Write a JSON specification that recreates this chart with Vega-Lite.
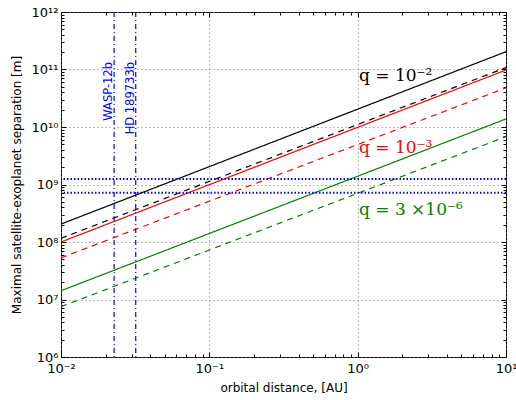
{
  "$schema": "https://vega.github.io/schema/vega-lite/v6.json",
  "autosize": {"type": "none"},
  "padding": {"left": 61, "top": 12, "right": 10, "bottom": 43},
  "width": 445,
  "height": 345,
  "background": "white",
  "config": {
    "view": {"stroke": "#000000", "strokeWidth": 1},
    "font": "DejaVu Sans",
    "axis": {"labelFont": "DejaVu Sans", "titleFont": "DejaVu Sans", "labelColor": "#000", "titleColor": "#000", "titleFontWeight": "normal", "domain": false, "tickColor": "#000"}
  },
  "datasets": {
    "lines": [
      {"series": "k solid", "grp": "k", "sty": "solid", "a": 0.01, "r": 2.05e8},
      {"series": "k solid", "grp": "k", "sty": "solid", "a": 10, "r": 2.04e11},
      {"series": "k dashed", "grp": "k", "sty": "dashed", "a": 0.01, "r": 1.16e8},
      {"series": "k dashed", "grp": "k", "sty": "dashed", "a": 10, "r": 1.08e11},
      {"series": "r solid", "grp": "r", "sty": "solid", "a": 0.01, "r": 1.0e8},
      {"series": "r solid", "grp": "r", "sty": "solid", "a": 10, "r": 9.8e10},
      {"series": "r dashed", "grp": "r", "sty": "dashed", "a": 0.01, "r": 5.3e7},
      {"series": "r dashed", "grp": "r", "sty": "dashed", "a": 10, "r": 4.8e10},
      {"series": "g solid", "grp": "g", "sty": "solid", "a": 0.01, "r": 1.42e7},
      {"series": "g solid", "grp": "g", "sty": "solid", "a": 10, "r": 1.38e10},
      {"series": "g dashed", "grp": "g", "sty": "dashed", "a": 0.01, "r": 7.5e6},
      {"series": "g dashed", "grp": "g", "sty": "dashed", "a": 10, "r": 6.8e9}
    ],
    "qlabels": [
      {"label": "q = 10⁻²", "grp": "k", "a": 1.02, "r": 6.3e10},
      {"label": "q = 10⁻³", "grp": "r", "a": 1.02, "r": 3.5e9},
      {"label": "q = 3 ×10⁻⁶", "grp": "g", "a": 1.02, "r": 2.9e8}
    ],
    "planets": [
      {"name": "WASP-12b", "a": 0.0228, "top": 1.35e11},
      {"name": "HD 189733b", "a": 0.0319, "top": 1.35e11}
    ],
    "hlines": [
      {"r": 1.25e9},
      {"r": 7.2e8}
    ]
  },
  "resolve": {"axis": {"x": "independent", "y": "independent"}},
  "layer": [
    {
      "data": {"name": "lines"},
      "mark": {"type": "line", "strokeWidth": 1.2},
      "encoding": {
        "x": {"field": "a", "type": "quantitative",
          "scale": {"type": "log", "domain": [0.01, 10], "nice": false},
          "axis": {"orient": "bottom", "title": "orbital distance, [AU]", "titleFontSize": 12, "titlePadding": 7,
            "values": [0.01, 0.1, 1, 10], "tickSize": -5, "labelPadding": 10, "labelFontSize": 13,
            "labelExpr": "datum.value < 0.05 ? '10⁻²' : datum.value < 0.5 ? '10⁻¹' : datum.value < 5 ? '10⁰' : '10¹'",
            "grid": true, "gridColor": "#7a7a7a", "gridDash": [1, 3], "gridWidth": 1, "labelFlush": false}},
        "y": {"field": "r", "type": "quantitative",
          "scale": {"type": "log", "domain": [1e6, 1e12], "nice": false},
          "axis": {"orient": "left", "title": "Maximal satellite-exoplanet separation [m]", "titleFontSize": 12, "titlePadding": 8,
            "values": [1e6, 1e7, 1e8, 1e9, 1e10, 1e11, 1e12], "tickSize": -5, "labelPadding": 8, "labelFontSize": 13,
            "labelExpr": "datum.value < 5e6 ? '10⁶' : datum.value < 5e7 ? '10⁷' : datum.value < 5e8 ? '10⁸' : datum.value < 5e9 ? '10⁹' : datum.value < 5e10 ? '10¹⁰' : datum.value < 5e11 ? '10¹¹' : '10¹²'",
            "grid": true, "gridColor": "#7a7a7a", "gridDash": [1, 3], "gridWidth": 1, "labelFlush": false}},
        "detail": {"field": "series"},
        "color": {"field": "grp", "type": "nominal", "scale": {"domain": ["k", "r", "g"], "range": ["#000000", "#ff0000", "#008000"]}, "legend": null},
        "strokeDash": {"field": "sty", "type": "nominal", "scale": {"domain": ["solid", "dashed"], "range": [[1, 0], [6, 5]]}, "legend": null}
      }
    },
    {
      "data": {"name": "qlabels"},
      "mark": {"type": "text", "align": "left", "baseline": "alphabetic", "font": "DejaVu Serif", "fontSize": 17},
      "encoding": {
        "x": {"field": "a", "type": "quantitative",
          "axis": {"orient": "bottom", "title": null, "labels": false, "grid": false, "tickSize": -3,
            "values": [0.02,0.03,0.04,0.05,0.06,0.07,0.08,0.09,0.2,0.3,0.4,0.5,0.6,0.7,0.8,0.9,2,3,4,5,6,7,8,9]}},
        "y": {"field": "r", "type": "quantitative",
          "axis": {"orient": "left", "title": null, "labels": false, "grid": false, "tickSize": -3,
            "values": [2e6,3e6,4e6,5e6,6e6,7e6,8e6,9e6,2e7,3e7,4e7,5e7,6e7,7e7,8e7,9e7,2e8,3e8,4e8,5e8,6e8,7e8,8e8,9e8,2e9,3e9,4e9,5e9,6e9,7e9,8e9,9e9,2e10,3e10,4e10,5e10,6e10,7e10,8e10,9e10,2e11,3e11,4e11,5e11,6e11,7e11,8e11,9e11]}},
        "text": {"field": "label"},
        "color": {"field": "grp", "type": "nominal", "legend": null}
      }
    },
    {
      "data": {"name": "planets"},
      "mark": {"type": "text", "angle": 270, "align": "right", "baseline": "bottom", "fontSize": 11.5, "color": "#0000ff", "font": "DejaVu Sans"},
      "encoding": {
        "x": {"field": "a", "type": "quantitative",
          "axis": {"orient": "top", "title": null, "labels": false, "grid": false, "tickSize": -5, "values": [0.01, 0.1, 1, 10]}},
        "y": {"field": "top", "type": "quantitative",
          "axis": {"orient": "right", "title": null, "labels": false, "grid": false, "tickSize": -5, "values": [1e6, 1e7, 1e8, 1e9, 1e10, 1e11, 1e12]}},
        "text": {"field": "name"}
      }
    },
    {
      "data": {"name": "planets"},
      "mark": {"type": "rule", "color": "#0000ff", "strokeWidth": 1.2, "strokeDash": [5, 3, 1, 3]},
      "encoding": {
        "x": {"field": "a", "type": "quantitative",
          "axis": {"orient": "top", "title": null, "labels": false, "grid": false, "tickSize": -3,
            "values": [0.02,0.03,0.04,0.05,0.06,0.07,0.08,0.09,0.2,0.3,0.4,0.5,0.6,0.7,0.8,0.9,2,3,4,5,6,7,8,9]}}
      }
    },
    {
      "data": {"name": "hlines"},
      "mark": {"type": "rule", "color": "#0000ff", "strokeWidth": 2, "strokeDash": [1.5, 2]},
      "encoding": {
        "y": {"field": "r", "type": "quantitative",
          "axis": {"orient": "right", "title": null, "labels": false, "grid": false, "tickSize": -3,
            "values": [2e6,3e6,4e6,5e6,6e6,7e6,8e6,9e6,2e7,3e7,4e7,5e7,6e7,7e7,8e7,9e7,2e8,3e8,4e8,5e8,6e8,7e8,8e8,9e8,2e9,3e9,4e9,5e9,6e9,7e9,8e9,9e9,2e10,3e10,4e10,5e10,6e10,7e10,8e10,9e10,2e11,3e11,4e11,5e11,6e11,7e11,8e11,9e11]}}
      }
    }
  ]
}
